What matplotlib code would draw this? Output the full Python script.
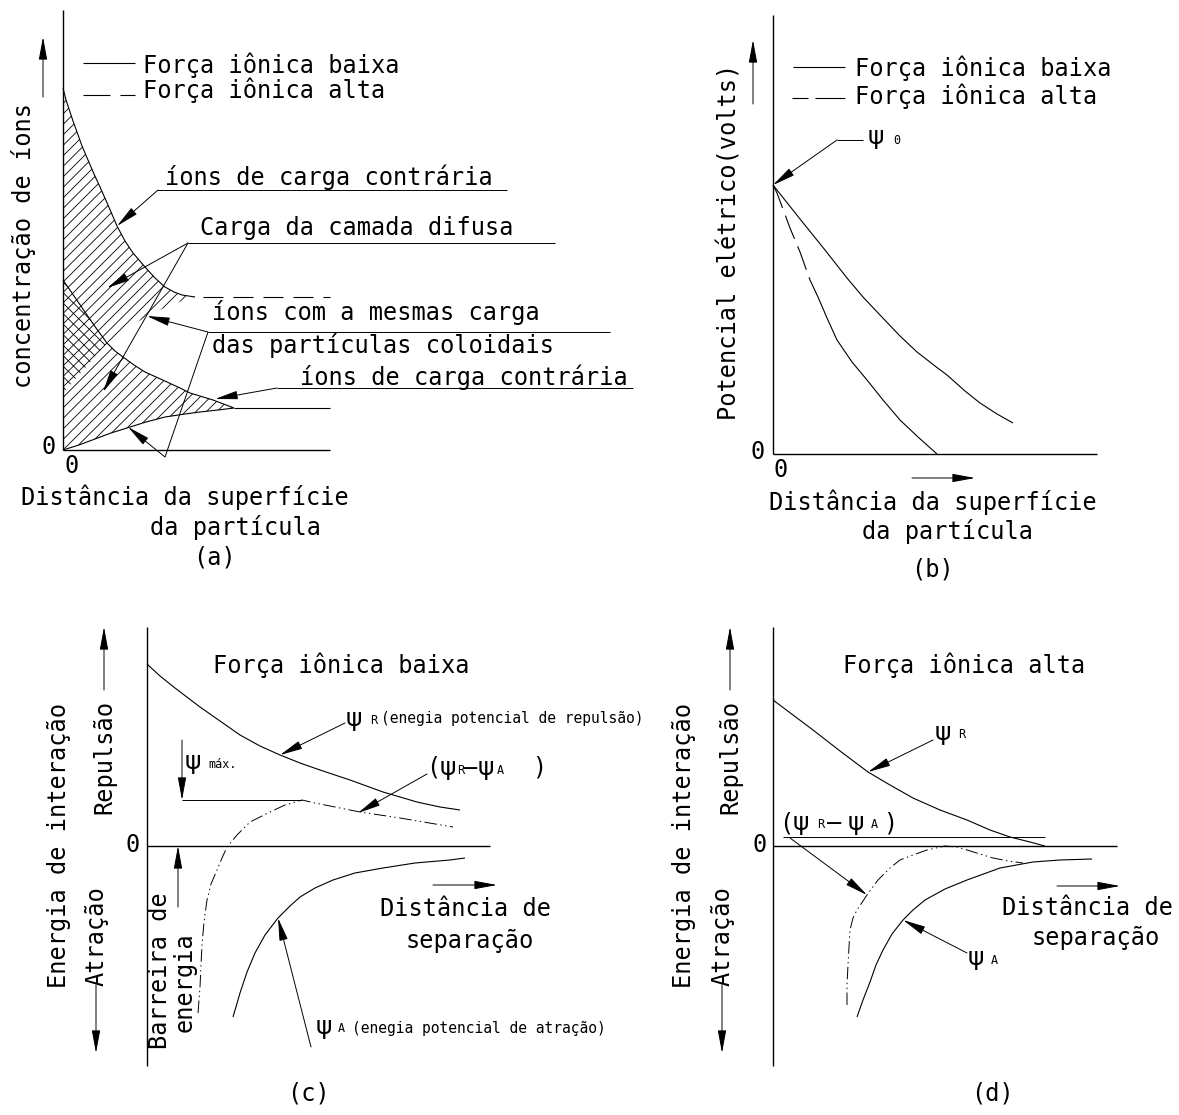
import numpy as np
import matplotlib
matplotlib.use("Agg")
import matplotlib.pyplot as plt
from matplotlib.patches import Polygon
from matplotlib.collections import LineCollection

# ---------------- data (panel units, origin at axes crossing) ----------------
# (a) concentração de íons x distância
a_counter_x = [0, 3, 7, 10, 14, 19, 25, 31, 37, 45, 54, 62, 70, 82, 92, 102, 111, 119, 132]
a_counter_y = [362, 350, 338, 329, 318, 304, 290, 276, 263, 245, 224, 209, 197, 183, 172, 163, 158, 155, 153]
a_bulk_high_x = [140, 267]
a_bulk_high_y = [153, 153]
a_fall_x = [0, 11, 22, 33, 44, 52, 60, 71, 82, 93, 104, 117, 127, 150, 171]
a_fall_y = [170, 154, 138, 122, 107, 99, 93, 85, 78, 73, 68, 62, 57, 50, 42]
a_rise_x = [0, 16, 32, 48, 64, 83, 102, 122, 137, 155, 171]
a_rise_y = [0, 5, 11, 17, 22, 28, 33, 36, 38, 40, 42]
a_bulk_low_x = [171, 267]
a_bulk_low_y = [42, 42]

# (b) potencial elétrico x distância
b_low_x = [0, 27, 52, 74, 90, 107, 127, 144, 162, 174, 192, 207, 224, 240]
b_low_y = [269, 235, 204, 176, 157, 139, 118, 102, 88, 79, 63, 51, 40, 31]
b_high_x = [0, 4, 17, 27, 37, 45, 54, 64, 79, 94, 110, 127, 145, 164]
b_high_y = [269, 261, 226, 202, 174, 157, 136, 114, 92, 74, 54, 34, 17, 0]

# (c) força iônica baixa
c_rep_x = [0, 13, 28, 53, 73, 93, 113, 133, 153, 173, 203, 236, 270, 293, 313]
c_rep_y = [182, 170, 158, 139, 125, 111, 100, 91, 83, 76, 66, 54, 44, 39, 36]
c_att_x = [86, 93, 100, 108, 118, 131, 143, 153, 168, 186, 208, 236, 268, 303, 318]
c_att_y = [-171, -147, -126, -107, -89, -72, -60, -51, -42, -34, -27, -22, -17, -14, -12]
c_net_x = [51, 52, 53, 54, 55, 57, 60, 64, 70, 75, 80, 90, 103, 123, 138, 155, 168, 183, 213, 253, 306]
c_net_y = [-167, -154, -141, -119, -99, -76, -54, -38, -24, -12, -1, 11, 24, 34, 41, 46, 43, 40, 34, 28, 19]

# (d) força iônica alta
d_rep_x = [0, 20, 40, 67, 95, 117, 140, 167, 194, 217, 237, 257, 272]
d_rep_y = [146, 131, 116, 95, 74, 61, 48, 36, 26, 16, 9, 4, 0]
d_att_x = [84, 90, 97, 103, 110, 119, 130, 140, 152, 172, 194, 227, 260, 287, 319]
d_att_y = [-171, -154, -136, -119, -104, -88, -74, -64, -54, -43, -34, -22, -16, -14, -13]
d_net_x = [74, 74, 75, 76, 77, 80, 84, 94, 105, 117, 127, 140, 154, 172, 184, 194, 207, 220, 235, 250]
d_net_y = [-159, -139, -119, -101, -84, -72, -64, -49, -34, -22, -14, -9, -4, 0, -1, -4, -8, -12, -15, -17]

# texts
legend_labels = ["Força iônica baixa", "Força iônica alta"]
a_notes = ["íons de carga contrária", "Carga da camada difusa",
           "íons com a mesmas carga", "das partículas coloidais",
           "íons de carga contrária"]
dist_label = ["Distância da superfície", "da partícula"]
sep_label = ["Distância de", "separação"]

# ---------------- style ----------------
plt.rcParams['lines.scale_dashes'] = False
plt.rcParams['font.family'] = ['DejaVu Sans Mono', 'DejaVu Sans']
FS = 17
FS_SMALL = 10.5
FS_SUB = 8.5
FS_PSI = 18
LW_AX = 1.0
LW = 0.8
LW_L = 0.7
K = 'black'

W, H = 1179, 1115
fig = plt.figure(figsize=(W / 100, H / 100), dpi=100)
fig.patch.set_facecolor('white')


def panel(x0, y0, x1, y1, ox, oy):
    ax = fig.add_axes([x0 / W, 1 - y1 / H, (x1 - x0) / W, (y1 - y0) / H])
    ax.set_xlim(x0 - ox, x1 - ox)
    ax.set_ylim(oy - y1, oy - y0)
    ax.axis('off')
    return ax


def line(ax, xs, ys, lw=LW, **kw):
    ax.plot(xs, ys, color=K, lw=lw, solid_capstyle='butt', clip_on=False, **kw)


def arrow(ax, x0, y0, x1, y1, hl=14, hw=2.6, lw=LW_L):
    ax.annotate('', xy=(x1, y1), xytext=(x0, y0), annotation_clip=False,
                arrowprops=dict(arrowstyle='-|>,head_length=%g,head_width=%g' % (hl, hw),
                                mutation_scale=1, lw=lw, color=K,
                                shrinkA=0, shrinkB=0))


def txt(ax, x, y, s, size=FS, ha='left', va='baseline', rot=0):
    ax.text(x, y, s, fontsize=size, ha=ha, va=va, rotation=rot, color=K)


def psi(ax, x, y):
    # x = left edge of the glyph box
    ax.text(x, y, 'ψ', fontsize=FS_PSI, ha='left', va='center', color=K,
            family=['DejaVu Sans'])


def sub(ax, x, y, s, size=FS_SUB):
    ax.text(x, y - 2, s, fontsize=size, ha='left', va='center', color=K)


def hatch(ax, xs, ys, step=10.5, direction=1, lw=0.6):
    poly = Polygon(np.column_stack([xs, ys]), closed=True, fill=False, lw=0,
                   edgecolor='none')
    ax.add_patch(poly)
    xmin, xmax, ymin, ymax = min(xs), max(xs), min(ys), max(ys)
    segs = []
    if direction == 1:   # lines x - y = c
        cmin, cmax = xmin - ymax, xmax - ymin
        for c in np.arange(np.floor(cmin / step) * step, cmax + step, step):
            segs.append([(ymin + c, ymin), (ymax + c, ymax)])
    else:                # lines x + y = c
        cmin, cmax = xmin + ymin, xmax + ymax
        for c in np.arange(np.floor(cmin / step) * step, cmax + step, step):
            segs.append([(c - ymin, ymin), (c - ymax, ymax)])
    lc = LineCollection(segs, colors=K, linewidths=lw)
    ax.add_collection(lc)
    lc.set_clip_path(poly)


# =============================== (a) ===============================
axA = panel(0, 0, 680, 600, 63, 450)
line(axA, [0, 0], [0, 440], lw=LW_AX)
line(axA, [0, 267], [0, 0], lw=LW_AX)

# hatched regions
top_x = a_counter_x + [107, 72, 57, 44, 22, 0]
top_y = a_counter_y + [145, 127, 115, 107, 138, 170]
hatch(axA, top_x, top_y)
bot_x = a_fall_x + a_rise_x[::-1]
bot_y = a_fall_y + a_rise_y[::-1]
hatch(axA, bot_x, bot_y)
hatch(axA, [0, 22, 44, 0], [170, 138, 107, 57], direction=-1)

line(axA, a_counter_x, a_counter_y)
line(axA, a_bulk_high_x, a_bulk_high_y, dashes=(14.4, 7.2))
line(axA, a_fall_x, a_fall_y)
line(axA, a_rise_x, a_rise_y)
line(axA, a_bulk_low_x, a_bulk_low_y)

# axis arrow and labels
arrow(axA, -20, 353, -20, 413)
txt(axA, -39, 204, 'concentração de íons', ha='center', va='center', rot=90)
txt(axA, -14, 3, '0', ha='center', va='center')
txt(axA, 9, -16, '0', ha='center', va='center')
txt(axA, 122, -47, dist_label[0], ha='center', va='center')
txt(axA, 172, -77, dist_label[1], ha='center', va='center')
txt(axA, 152, -108, '(a)', ha='center', va='center')

# legend
line(axA, [20, 72], [387, 387])
line(axA, [20, 72], [355, 355], dashes=(19.4, 7.2))
txt(axA, 80, 377, legend_labels[0])
txt(axA, 80, 352, legend_labels[1])

# notes with leaders
txt(axA, 102, 265, a_notes[0])
line(axA, [94, 444], [260, 260], lw=LW_L)
arrow(axA, 95, 260, 54, 224)

txt(axA, 137, 215, a_notes[1])
line(axA, [125, 492], [207, 207], lw=LW_L)
arrow(axA, 125, 207, 44, 162)
arrow(axA, 125, 207, 40, 58)

txt(axA, 149, 130, a_notes[2])
line(axA, [145, 547], [118, 118], lw=LW_L)
txt(axA, 149, 97, a_notes[3])
arrow(axA, 145, 118, 84, 134)
line(axA, [145, 102], [118, -7], lw=LW_L)
arrow(axA, 102, -7, 65, 23)

txt(axA, 237, 65, a_notes[4])
line(axA, [214, 570], [62, 62], lw=LW_L)
arrow(axA, 214, 62, 152, 51)

# =============================== (b) ===============================
axB = panel(680, 0, 1179, 600, 773, 454)
line(axB, [0, 0], [0, 439], lw=LW_AX)
line(axB, [0, 324], [0, 0], lw=LW_AX)
line(axB, b_low_x, b_low_y)
line(axB, b_high_x[:6], b_high_y[:6], dashes=(18, 5.8))
line(axB, b_high_x[5:], b_high_y[5:])

arrow(axB, -20, 350, -20, 414)
arrow(axB, 139, -24, 202, -24)
txt(axB, -44, 212, 'Potencial elétrico(volts)', ha='center', va='center', rot=90)
txt(axB, -15, 2, '0', ha='center', va='center')
txt(axB, 8, -16, '0', ha='center', va='center')
txt(axB, 160, -48, dist_label[0], ha='center', va='center')
txt(axB, 175, -77, dist_label[1], ha='center', va='center')
txt(axB, 159, -116, '(b)', ha='center', va='center')

line(axB, [20, 72], [387, 387])
line(axB, [19, 72], [356, 356], dashes=(11.5, 5, 21.6, 5))
txt(axB, 82, 378, legend_labels[0])
txt(axB, 82, 350, legend_labels[1])

line(axB, [64, 90], [314, 314], lw=LW_L)
arrow(axB, 64, 314, 0, 269)
psi(axB, 95, 317)
sub(axB, 120, 315, '0')

# =============================== (c) ===============================
axC = panel(0, 600, 680, 1115, 147, 846)
line(axC, [0, 0], [-220, 219], lw=LW_AX)
line(axC, [0, 343], [0, 0], lw=LW_AX)
line(axC, c_rep_x, c_rep_y)
line(axC, c_att_x, c_att_y)
line(axC, c_net_x, c_net_y, lw=0.7, dashes=(9, 2.5, 1, 2.5, 1, 2.5))

txt(axC, -88, 0, 'Energia de interação', ha='center', va='center', rot=90)
txt(axC, -43, 89, 'Repulsão', ha='center', va='center', rot=90)
arrow(axC, -43, 156, -43, 219)
txt(axC, -50, -90, 'Atração', ha='center', va='center', rot=90)
arrow(axC, -51, -139, -51, -207)
txt(axC, -14, 1, '0', ha='center', va='center')

txt(axC, 66, 181, 'Força iônica baixa', va='center')

# psi max
line(axC, [35, 155], [46, 46], lw=LW_L)
arrow(axC, 35, 106, 35, 46)
psi(axC, 38, 84)
sub(axC, 61, 84, 'máx.')

# energy barrier
arrow(axC, 31, -61, 31, 0)
txt(axC, 13, -125, 'Barreira de', ha='center', va='center', rot=90)
txt(axC, 38, -136, 'energia', ha='center', va='center', rot=90)

# psi R label
arrow(axC, 198, 123, 133, 91)
psi(axC, 199, 127)
sub(axC, 223, 127, 'R')
txt(axC, 234, 127, '(enegia potencial de repulsão)', size=FS_SMALL, va='center')

# (psiR - psiA)
txt(axC, 293, 78, '(', ha='right', va='center')
psi(axC, 293, 78)
sub(axC, 310, 78, 'R')
txt(axC, 316, 78, '—', va='center')
psi(axC, 331, 78)
sub(axC, 350, 78, 'A')
txt(axC, 385, 78, ')', va='center')
arrow(axC, 280, 72, 211, 33)

# psi A label
arrow(axC, 164, -201, 131, -72)
psi(axC, 169, -181)
sub(axC, 191, -181, 'A')
txt(axC, 205, -183, '(enegia potencial de atração)', size=FS_SMALL, va='center')

arrow(axC, 286, -39, 350, -39)
txt(axC, 318, -63, sep_label[0], ha='center', va='center')
txt(axC, 323, -95, sep_label[1], ha='center', va='center')
txt(axC, 161, -247, '(c)', ha='center', va='center')

# =============================== (d) ===============================
axD = panel(680, 600, 1179, 1115, 773, 846)
line(axD, [0, 0], [-220, 219], lw=LW_AX)
line(axD, [0, 344], [0, 0], lw=LW_AX)
line(axD, d_rep_x, d_rep_y)
line(axD, d_att_x, d_att_y)
line(axD, d_net_x, d_net_y, lw=0.7, dashes=(9, 2.5, 1, 2.5, 1, 2.5))

txt(axD, -89, 0, 'Energia de interação', ha='center', va='center', rot=90)
txt(axD, -43, 89, 'Repulsão', ha='center', va='center', rot=90)
arrow(axD, -43, 156, -43, 219)
txt(axD, -50, -90, 'Atração', ha='center', va='center', rot=90)
arrow(axD, -51, -139, -51, -207)
txt(axD, -13, 1, '0', ha='center', va='center')

txt(axD, 70, 181, 'Força iônica alta', va='center')

arrow(axD, 160, 106, 95, 74)
psi(axD, 162, 113)
sub(axD, 185, 113, 'R')

line(axD, [10, 272], [9, 9], lw=LW_L)
txt(axD, 20, 23, '(', ha='right', va='center')
psi(axD, 20, 23)
sub(axD, 44, 23, 'R')
txt(axD, 54, 23, '—', va='center')
psi(axD, 75, 23)
sub(axD, 98, 23, 'A')
txt(axD, 110, 23, ')', va='center')
arrow(axD, 17, 8, 94, -49)

arrow(axD, 194, -107, 130, -74)
psi(axD, 195, -112)
sub(axD, 218, -112, 'A')

arrow(axD, 284, -40, 347, -40)
txt(axD, 314, -62, sep_label[0], ha='center', va='center')
txt(axD, 323, -92, sep_label[1], ha='center', va='center')
txt(axD, 220, -247, '(d)', ha='center', va='center')

fig.savefig('out.png', dpi=100, facecolor='white')
